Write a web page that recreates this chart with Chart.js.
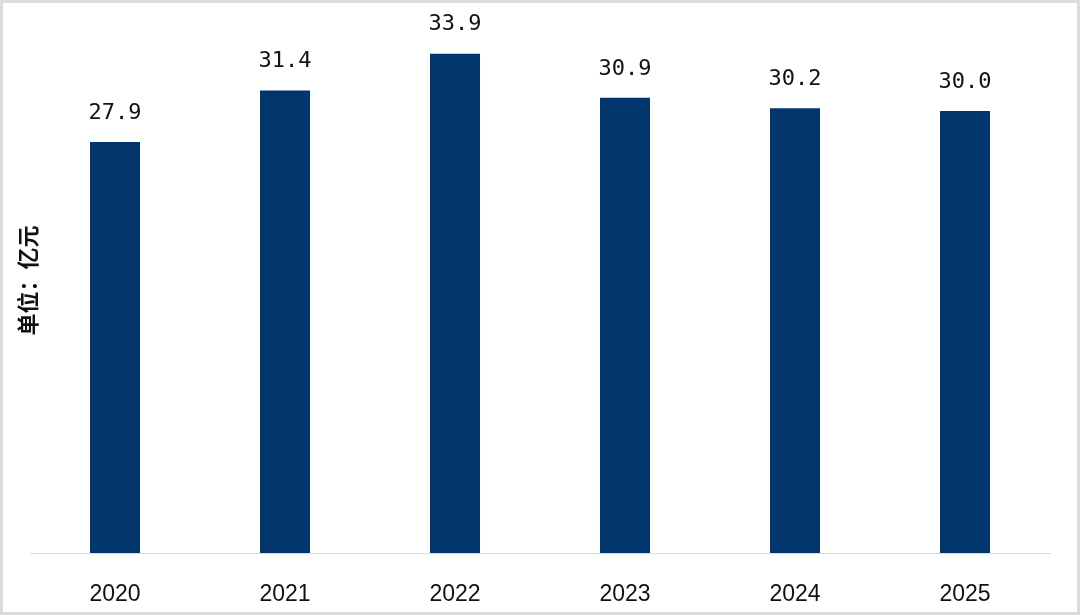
<!DOCTYPE html>
<html>
<head>
<meta charset="utf-8">
<script src="https://cdn.jsdelivr.net/npm/chart.js@4"></script>
<style>
  body { margin: 0; background: #fff; }
  .frame {
    width: 1080px; height: 615px; box-sizing: border-box;
    border: 3px solid #dcdcdc; background: #fff;
  }
  .frame canvas { display: block; }
</style>
</head>
<body>
<div class="frame">
  <canvas id="myChart" width="1074" height="609"></canvas>
</div>
<script>
// years and market size (亿元)
var years = ['2020', '2021', '2022', '2023', '2024', '2025'];
var values = [27.9, 31.4, 33.9, 30.9, 30.2, 30.0];
var unitLabel = '单位：亿元';

// draws the number above each bar
var barLabels = {
  id: 'barLabels',
  afterDatasetsDraw: function(chart) {
    var ctx = chart.ctx;
    var meta = chart.getDatasetMeta(0);
    ctx.save();
    ctx.font = '22px "DejaVu Sans Mono", monospace';
    ctx.fillStyle = '#111';
    ctx.textAlign = 'center';
    ctx.textBaseline = 'middle';
    meta.data.forEach(function(bar, i) {
      ctx.fillText(values[i].toFixed(1), bar.x, bar.y - 29);
    });
    ctx.restore();
  }
};

var ctx = document.getElementById('myChart').getContext('2d');
var myChart = new Chart(ctx, {
  type: 'bar',
  data: {
    labels: years,
    datasets: [{
      data: values,
      backgroundColor: '#02356c',
      borderWidth: 0,
      categoryPercentage: 1,
      barPercentage: 0.294
    }]
  },
  options: {
    responsive: false,
    animation: false,
    layout: {
      padding: { top: 5, right: 27, bottom: 0, left: 0 }
    },
    plugins: {
      legend: { display: false },
      tooltip: { enabled: false }
    },
    scales: {
      x: {
        grid: { display: false },
        border: { display: true, color: '#d9d9d9', width: 1 },
        ticks: {
          padding: 20,
          color: '#111',
          font: { family: '"Liberation Sans", Arial, sans-serif', size: 23 }
        },
        afterFit: function(s) { s.height = 59; }
      },
      y: {
        min: 0,
        max: 37,
        grid: { display: false },
        border: { display: false },
        ticks: { display: false },
        title: {
          display: true,
          text: unitLabel,
          color: '#111',
          padding: { top: 11, bottom: 0 },
          font: { family: '"Noto Sans CJK SC", sans-serif', size: 22, weight: 'bold' }
        },
        afterFit: function(s) { s.width = 27; }
      }
    }
  },
  plugins: [barLabels]
});
</script>
</body>
</html>
